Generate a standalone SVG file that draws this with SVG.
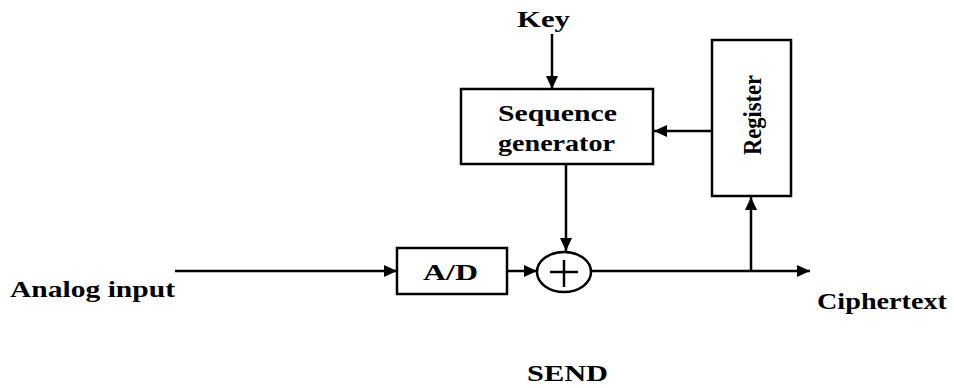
<svg xmlns="http://www.w3.org/2000/svg" width="954" height="388" viewBox="0 0 954 388">
<style>
.box{fill:#fff;stroke:#000;stroke-width:2.5}
.ln{fill:none;stroke:#000;stroke-width:2.5}
.t{font-family:"Liberation Serif","Times New Roman",serif;font-weight:bold;font-size:23px;fill:#000}
</style>
<defs>
<marker id="ah" viewBox="0 0 13 12" refX="13" refY="6" markerWidth="13" markerHeight="12" markerUnits="userSpaceOnUse" orient="auto">
<path d="M0,0 L13,6 L0,12 Z" fill="#000"/>
</marker>
</defs>
<rect width="954" height="388" fill="#fff"/>
<g id="connectors">
<line class="ln" x1="552" y1="34" x2="552" y2="89" marker-end="url(#ah)"/>
<line class="ln" x1="712" y1="131" x2="654" y2="131" marker-end="url(#ah)"/>
<line class="ln" x1="566" y1="164" x2="566" y2="251" marker-end="url(#ah)"/>
<line class="ln" x1="175" y1="271" x2="397" y2="271" marker-end="url(#ah)"/>
<line class="ln" x1="507" y1="271" x2="537" y2="271" marker-end="url(#ah)"/>
<line class="ln" x1="591" y1="271" x2="810" y2="271" marker-end="url(#ah)"/>
<line class="ln" x1="751" y1="271" x2="751" y2="197" marker-end="url(#ah)"/>
</g>
<g id="key">
<text class="t" x="517" y="27" textLength="53" lengthAdjust="spacingAndGlyphs">Key</text>
</g>
<g id="seqgen">
<rect class="box" x="461" y="89" width="192" height="75"/>
<text class="t" x="498" y="121" textLength="119" lengthAdjust="spacingAndGlyphs">Sequence</text>
<text class="t" x="498" y="151" textLength="117" lengthAdjust="spacingAndGlyphs">generator</text>
</g>
<g id="register">
<rect class="box" x="712" y="40" width="79" height="156"/>
<text class="t" style="font-size:26px" transform="translate(761,155) rotate(-90)" x="0" y="0" textLength="80" lengthAdjust="spacingAndGlyphs">Register</text>
</g>
<g id="ad">
<rect class="box" x="397" y="248" width="110" height="46"/>
<text class="t" x="423" y="280" textLength="55" lengthAdjust="spacingAndGlyphs">A/D</text>
</g>
<g id="xor">
<ellipse class="box" cx="564" cy="272" rx="27" ry="20"/>
<line class="ln" x1="550" y1="272" x2="578" y2="272"/>
<line class="ln" x1="564" y1="260" x2="564" y2="287"/>
</g>
<g id="labels">
<text class="t" x="10" y="297" textLength="165" lengthAdjust="spacingAndGlyphs">Analog input</text>
<text class="t" x="817" y="309" textLength="130" lengthAdjust="spacingAndGlyphs">Ciphertext</text>
<text class="t" x="527" y="381" textLength="81" lengthAdjust="spacingAndGlyphs">SEND</text>
</g>
</svg>
